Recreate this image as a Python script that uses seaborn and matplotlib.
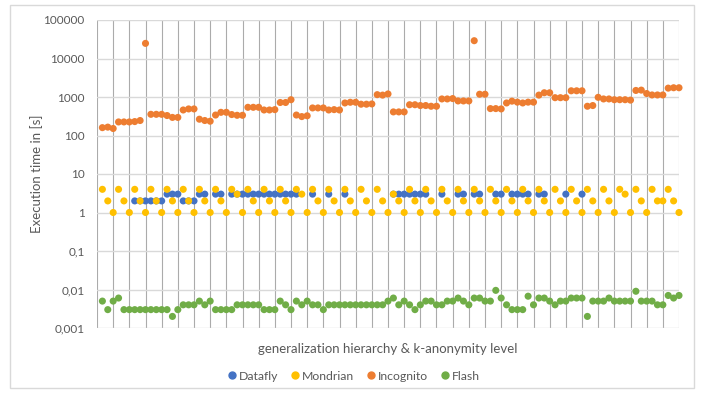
import numpy as np
import pandas as pd
import seaborn as sns
import matplotlib.pyplot as plt
from matplotlib.patches import Rectangle

# 108 Messpunkte (x = 1..108), Gitterlinien alle 3 Punkte
x_pos = list(range(1, 109))

incognito = [160, 165, 152, 225, 225, 225, 230, 245, 24700, 355, 355, 355,
             330, 295, 295, 460, 490, 490, 265, 245, 235, 340, 400, 400,
             350, 335, 335, 540, 540, 540, 460, 460, 470, 720, 720, 850,
             340, 310, 325, 520, 520, 520, 460, 470, 460, 700, 730, 730,
             650, 650, 660, 1150, 1120, 1200, 410, 410, 410, 630, 630, 600,
             600, 575, 575, 890, 890, 910, 790, 790, 790, 29000, 1180, 1180,
             500, 500, 490, 700, 780, 735, 700, 735, 735, 1120, 1290, 1290,
             960, 960, 960, 1450, 1450, 1450, 575, 600, 980, 890, 890, 850,
             850, 850, 830, 1480, 1510, 1230, 1130, 1130, 1130, 1700, 1740, 1740]

mondrian = [4, 2, 1] * 36
mondrian[26 - 1] = 3
mondrian[38 - 1] = 3
mondrian[55 - 1] = 3
mondrian[98 - 1] = 3
mondrian[105 - 1] = 2

datafly_2 = [7, 8, 9, 10, 11, 12, 16, 17, 18]
datafly_3 = [13, 14, 15, 19, 20, 22, 23] + list(range(25, 38)) + [40, 43, 46] \
    + list(range(55, 62)) + [64, 67, 68, 70, 71, 74, 75, 77, 78, 79, 80, 82, 83, 87, 90]
datafly = [np.nan] * 108
for i in datafly_2:
    datafly[i - 1] = 2
for i in datafly_3:
    datafly[i - 1] = 3

flash = [0.005, 0.003, 0.005, 0.006] + [0.003] * 9 + [0.002, 0.003] \
    + [0.004] * 3 + [0.005, 0.004, 0.005] + [0.003] * 4 + [0.004] * 5 \
    + [0.003] * 3 + [0.005, 0.004, 0.003, 0.005, 0.004, 0.005, 0.004, 0.004, 0.003] \
    + [0.004] * 11 + [0.005, 0.006, 0.004, 0.005, 0.004, 0.003, 0.004, 0.005, 0.005,
                      0.004, 0.004, 0.005, 0.005, 0.006, 0.005, 0.004, 0.006, 0.006,
                      0.005, 0.005, 0.0095, 0.006, 0.004, 0.003, 0.003, 0.003, 0.0067,
                      0.004, 0.006, 0.006, 0.005, 0.004, 0.005, 0.005, 0.006, 0.006,
                      0.006, 0.002, 0.005, 0.005, 0.005, 0.006, 0.005, 0.005, 0.005,
                      0.005, 0.009, 0.005, 0.005, 0.005, 0.004, 0.004, 0.007, 0.006, 0.007]

series_names = ['Datafly', 'Mondrian', 'Incognito', 'Flash']
colors = ['#4472C4', '#FFC000', '#ED7D31', '#70AD47']
ytick_vals = [0.001, 0.01, 0.1, 1, 10, 100, 1000, 10000, 100000]
ytick_labels = ['0,001', '0,01', '0,1', '1', '10', '100', '1000', '10000', '100000']

df = pd.DataFrame({
    'x': x_pos * 4,
    'time': datafly + mondrian + incognito + flash,
    'algo': sum([[n] * 108 for n in series_names], []),
})

sns.set_style('white')
plt.rcParams['font.family'] = ['Lato', 'DejaVu Sans']
txt = '#595959'

fig = plt.figure(figsize=(7.06, 3.98), dpi=100)
ax = fig.add_axes([97 / 706, 70 / 398, 582 / 706, 308 / 398])

sns.scatterplot(data=df, x='x', y='time', hue='algo', hue_order=series_names,
                palette=colors, s=26, linewidth=0, ax=ax, legend=False,
                zorder=3, clip_on=False)

ax.set_yscale('log')
ax.set_ylim(0.001, 100000)
ax.set_xlim(0, 108)
ax.set_yticks(ytick_vals)
ax.set_yticklabels(ytick_labels)
ax.minorticks_off()
ax.set_xticks(range(0, 109, 3))
ax.set_xticklabels([])
ax.tick_params(length=0, labelsize=8.5, labelcolor=txt, pad=9)
ax.grid(axis='y', color='#D9D9D9', linewidth=1.0)
ax.grid(axis='x', color='#ABABAB', linewidth=0.8)
ax.set_axisbelow(True)
for sp in ax.spines.values():
    sp.set_visible(False)

ax.set_xlabel('generalization hierarchy & k-anonymity level', fontsize=9.5, color=txt)
ax.xaxis.set_label_coords(0.5, -0.05)
ax.set_ylabel('Execution time in [s]', fontsize=9.5, color=txt)
ax.yaxis.set_label_coords(-0.092, 0.5)

handles = [plt.Line2D([], [], marker='o', linestyle='', color=c, markersize=5) for c in colors]
fig.legend(handles, series_names, loc='center', bbox_to_anchor=(0.5, 22 / 398), ncol=4,
           frameon=False, fontsize=8.8, labelcolor=txt, handletextpad=0.05,
           columnspacing=0.9, handlelength=1.0)

fig.patches.append(Rectangle((10 / 706, 10 / 398), 684 / 706, 383 / 398,
                             transform=fig.transFigure, fill=False,
                             edgecolor='#D9D9D9', linewidth=1.0))

fig.savefig('out.png', dpi=100)
